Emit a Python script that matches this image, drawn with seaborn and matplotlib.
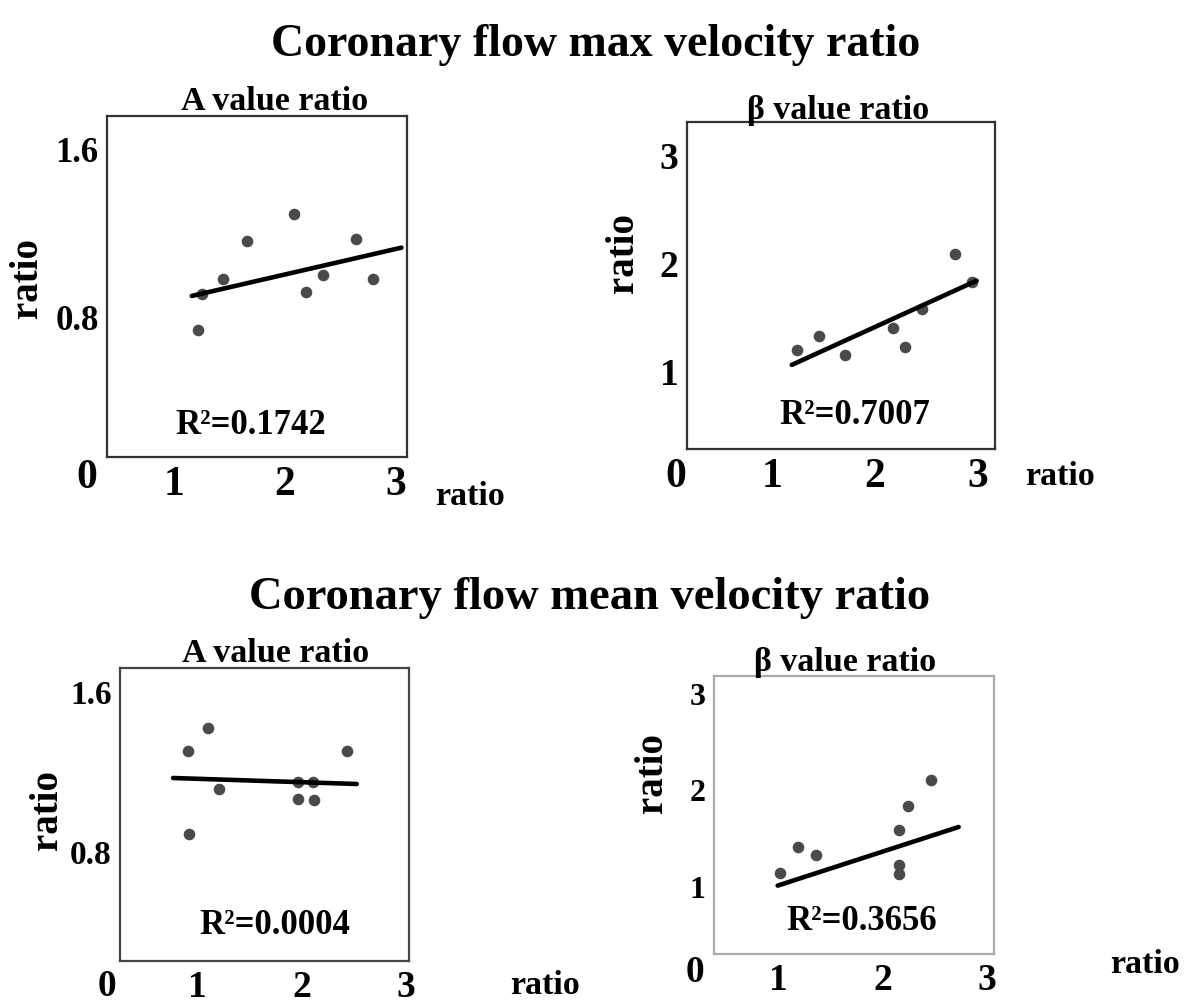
import matplotlib
matplotlib.use("Agg")
import matplotlib.pyplot as plt
import seaborn as sns
import pandas as pd

sns.set_style("white")
plt.rcParams['font.family'] = ['Liberation Serif', 'DejaVu Serif']
plt.rcParams['font.weight'] = 'bold'
plt.rcParams['text.color'] = 'black'
plt.rcParams['xtick.color'] = 'black'
plt.rcParams['ytick.color'] = 'black'

# ---- data ----
# Panel 1: max velocity, A value ratio
p1_x = [1.22, 1.25, 1.44, 1.66, 2.08, 2.19, 2.34, 2.64, 2.79]
p1_y = [0.74, 0.91, 0.98, 1.16, 1.29, 0.92, 1.00, 1.17, 0.98]
p1_line_x = [1.16, 3.05]
p1_line_y = [0.90, 1.13]
# Panel 2: max velocity, beta value ratio
p2_x = [1.24, 1.46, 1.71, 2.18, 2.29, 2.46, 2.78, 2.95]
p2_y = [1.19, 1.32, 1.14, 1.39, 1.22, 1.57, 2.08, 1.82]
p2_line_x = [1.19, 2.99]
p2_line_y = [1.05, 1.83]
# Panel 3: mean velocity, A value ratio
p3_x = [0.91, 1.10, 0.92, 1.21, 1.97, 2.11, 1.97, 2.12, 2.44]
p3_y = [1.30, 1.415, 0.885, 1.11, 1.145, 1.145, 1.06, 1.055, 1.30]
p3_line_x = [0.77, 2.53]
p3_line_y = [1.165, 1.135]
# Panel 4: mean velocity, beta value ratio
p4_x = [1.01, 1.19, 1.36, 2.16, 2.24, 2.46, 2.16, 2.16]
p4_y = [1.13, 1.40, 1.32, 1.58, 1.83, 2.10, 1.21, 1.12]
p4_line_x = [0.99, 2.73]
p4_line_y = [1.00, 1.61]

x_ticks = [1, 2, 3]
a_yticks = [0.8, 1.6]
a_yticklabels = ["0.8", "1.6"]
b_yticks = [1, 2, 3]
b_yticklabels = ["1", "2", "3"]
r2_labels = ["R²=0.1742", "R²=0.7007", "R²=0.0004", "R²=0.3656"]
section_titles = ["Coronary flow max velocity ratio", "Coronary flow mean velocity ratio"]
panel_titles = ["A value ratio", "β value ratio", "A value ratio", "β value ratio"]

W, H = 1190, 1003
fig = plt.figure(figsize=(W / 100, H / 100), dpi=100)

def fx(px):
    return px / W

def fy(py):
    return 1 - py / H

panels = [
    dict(box=(107, 117, 407, 458), xlim=(0.396, 3.10), ylim=(0.133, 1.757),
         x=p1_x, y=p1_y, lx=p1_line_x, ly=p1_line_y, yt=a_yticks, ytl=a_yticklabels,
         xfs=30, yfs=25, spine='#333333',
         title_xy=(275, 101), r2_xy=(251, 426), zero_xy=(87, 478),
         xlab_xy=(470, 497), ylab_xy=(28, 278)),
    dict(box=(687, 123, 995, 450), xlim=(0.169, 3.17), ylim=(0.271, 3.30),
         x=p2_x, y=p2_y, lx=p2_line_x, ly=p2_line_y, yt=b_yticks, ytl=b_yticklabels,
         xfs=30, yfs=27, spine='#333333',
         title_xy=(838, 110), r2_xy=(855, 415), zero_xy=(676, 477),
         xlab_xy=(1060, 477), ylab_xy=(623, 253)),
    dict(box=(120, 669, 409, 962), xlim=(0.261, 3.03), ylim=(0.25, 1.715),
         x=p3_x, y=p3_y, lx=p3_line_x, ly=p3_line_y, yt=a_yticks, ytl=a_yticklabels,
         xfs=27, yfs=24, spine='#444444',
         title_xy=(276, 653), r2_xy=(275, 925), zero_xy=(107, 987),
         xlab_xy=(545, 985), ylab_xy=(48, 810)),
    dict(box=(714, 677, 994, 955), xlim=(0.378, 3.07), ylim=(0.289, 3.18),
         x=p4_x, y=p4_y, lx=p4_line_x, ly=p4_line_y, yt=b_yticks, ytl=b_yticklabels,
         xfs=27, yfs=23, spine='#aaaaaa',
         title_xy=(845, 663), r2_xy=(862, 922), zero_xy=(695, 973),
         xlab_xy=(1145, 965), ylab_xy=(652, 773)),
]

for i, p in enumerate(panels):
    l, t, r, b = p['box']
    ax = fig.add_axes([fx(l), fy(b), fx(r) - fx(l), (b - t) / H])
    df = pd.DataFrame({'x': p['x'], 'y': p['y']})
    ldf = pd.DataFrame({'x': p['lx'], 'y': p['ly']})
    sns.scatterplot(data=df, x='x', y='y', ax=ax, s=70, color='#4a4a4a',
                    edgecolor='#4a4a4a', linewidth=0, zorder=3)
    sns.lineplot(data=ldf, x='x', y='y', ax=ax, color='black', linewidth=3.3,
                 zorder=4)
    ax.set_xlim(*p['xlim'])
    ax.set_ylim(*p['ylim'])
    ax.set_xticks(x_ticks)
    ax.set_xticklabels([str(v) for v in x_ticks], fontsize=p['xfs'], fontweight='bold')
    ax.set_yticks(p['yt'])
    ax.set_yticklabels(p['ytl'], fontsize=p['yfs'], fontweight='bold')
    ax.tick_params(axis='both', length=0, pad=6, labelcolor='black')
    ax.set_xlabel('')
    ax.set_ylabel('')
    for sp in ax.spines.values():
        sp.set_visible(True)
        sp.set_color(p['spine'])
        sp.set_linewidth(1.6)

    fig.text(fx(p['title_xy'][0]), fy(p['title_xy'][1]), panel_titles[i],
             ha='center', va='center', fontsize=24.5, fontweight='bold')
    fig.text(fx(p['r2_xy'][0]), fy(p['r2_xy'][1]), r2_labels[i],
             ha='center', va='center', fontsize=25, fontweight='bold')
    fig.text(fx(p['zero_xy'][0]), fy(p['zero_xy'][1]), '0',
             ha='center', va='center', fontsize=p['xfs'], fontweight='bold')
    fig.text(fx(p['xlab_xy'][0]), fy(p['xlab_xy'][1]), 'ratio',
             ha='center', va='center', fontsize=24.5, fontweight='bold')
    fig.text(fx(p['ylab_xy'][0]), fy(p['ylab_xy'][1]), 'ratio',
             ha='center', va='center', fontsize=28, fontweight='bold', rotation=90)

fig.text(fx(596), fy(45), section_titles[0], ha='center', va='center',
         fontsize=33, fontweight='bold')
fig.text(fx(590), fy(598), section_titles[1], ha='center', va='center',
         fontsize=33.5, fontweight='bold')

fig.savefig('out.png', dpi=100, facecolor='white')
